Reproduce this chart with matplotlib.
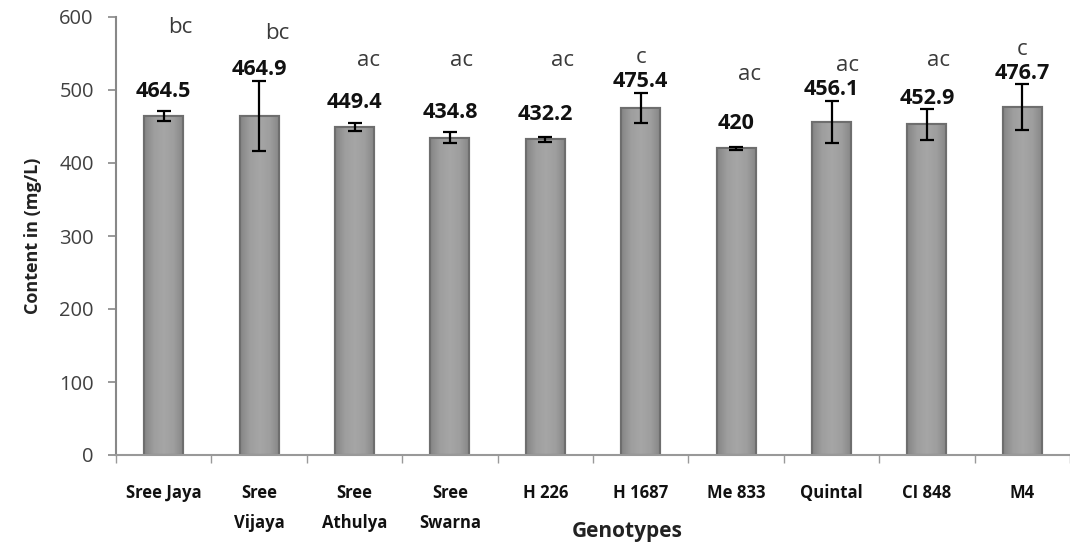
import matplotlib.pyplot as plt
import numpy as np
from matplotlib.colors import LinearSegmentedColormap

genotypes = ['Sree Jaya', 'Sree\nVijaya', 'Sree\nAthulya', 'Sree\nSwarna', 'H 226',
             'H 1687', 'Me 833', 'Quintal', 'CI 848', 'M4']
content = [464.5, 464.9, 449.4, 434.8, 432.2, 475.4, 420, 456.1, 452.9, 476.7]
errors = [7, 48, 5, 8, 4, 21, 2, 29, 21, 31]
letters = ['bc', 'bc', 'ac', 'ac', 'ac', 'c', 'ac', 'ac', 'ac', 'c']

# where the significance letters sit (layout only)
letter_y = [586, 578, 541, 541, 541, 545, 521, 534, 541, 555]
letter_dx = [0.17, 0.19, 0.15, 0.12, 0.18, 0.0, 0.14, 0.17, 0.12, 0.0]

plt.rcParams['font.family'] = ['Open Sans', 'DejaVu Sans']

fig = plt.figure(figsize=(10.7, 5.43), dpi=100)
ax = fig.add_axes([116 / 1070, 88 / 543, 954 / 1070, 438 / 543])

x = np.arange(len(genotypes))
bars = ax.bar(x, content, width=0.41, color='#a0a0a0', edgecolor='#6e6e6e', linewidth=1.5, zorder=2)

# soft shading inside each bar
shade = LinearSegmentedColormap.from_list('shade', ['#858585', '#9e9e9e', '#a6a6a6', '#9e9e9e', '#858585'])
grad = np.linspace(0, 1, 64).reshape(1, -1)
for b in bars:
    x0, w, h = b.get_x(), b.get_width(), b.get_height()
    im = ax.imshow(grad, cmap=shade, aspect='auto', extent=(x0, x0 + w, 0, h), zorder=2.1)
    im.set_clip_path(b)
    ax.bar(b.get_x() + w / 2, h, width=w, fill=False, edgecolor='#6e6e6e', linewidth=1.5, zorder=2.2)

ax.errorbar(x, content, yerr=errors, fmt='none', ecolor='black', elinewidth=1.6,
            capsize=5, capthick=1.6, zorder=3)

for i, v in enumerate(content):
    ly = max(v + 34, v + errors[i] + 15)
    ax.text(i, ly, f'{v:g}', ha='center', va='center', fontsize=15.5, fontweight='bold',
            color='#111111', zorder=4)
    ax.text(i + letter_dx[i], letter_y[i], letters[i], ha='center', va='center',
            fontsize=16, color='#3a3a3a', zorder=4)

ax.set_xlim(-0.5, len(genotypes) - 0.5)
ax.set_ylim(0, 600)
ax.set_yticks(range(0, 601, 100))
ax.tick_params(axis='y', labelsize=14.5, labelcolor='#404040', color='#888888',
               length=6, width=1.2, pad=10)

ax.set_xticks(np.arange(-0.5, len(genotypes), 1))
ax.set_xticklabels([])
ax.tick_params(axis='x', which='major', color='#999999', length=6, width=1.0)
ax.set_xticks(x, minor=True)
ax.set_xticklabels(genotypes, minor=True, fontsize=12, fontweight='bold', color='#111111')
ax.tick_params(axis='x', which='minor', length=0, pad=21)
for t in ax.get_xticklabels(minor=True):
    t.set_linespacing(1.85)
    t.set_verticalalignment('top')

for s in ['top', 'right']:
    ax.spines[s].set_visible(False)
ax.spines['left'].set_color('#888888')
ax.spines['left'].set_linewidth(1.5)
ax.spines['bottom'].set_color('#999999')
ax.spines['bottom'].set_linewidth(1.5)

ax.set_ylabel('Content in (mg/L)', fontsize=13, fontweight='bold', color='#222222', labelpad=12)
ax.set_xlabel('Genotypes', fontsize=15, fontweight='bold', color='#222222')
ax.xaxis.set_label_coords((627 - 116) / 954, -(532 - 455) / 438)
ax.xaxis.label.set_va('center')

fig.savefig('out.png', dpi=100)
